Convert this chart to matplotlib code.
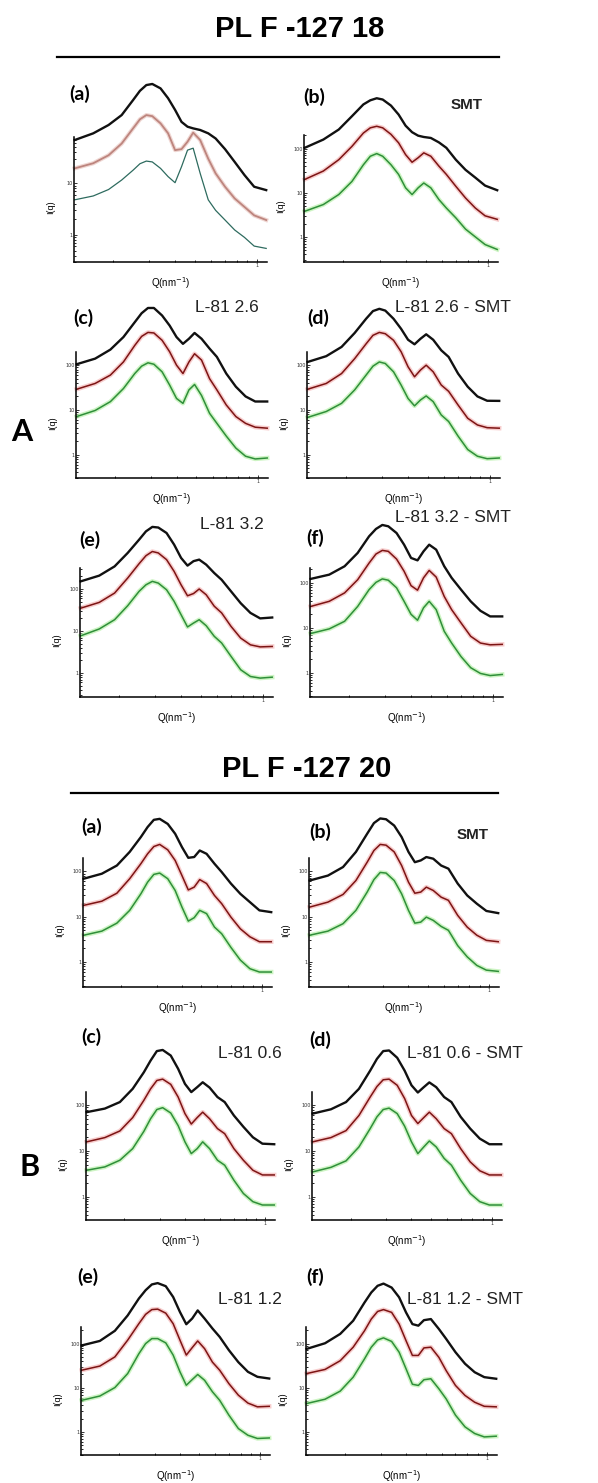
import matplotlib.pyplot as plt
from matplotlib.lines import Line2D
from matplotlib.ticker import FixedLocator, FuncFormatter, LogLocator, NullFormatter

W, H = 598, 1483

# scattering vector grid shared by every curve (nm^-1)
q = [0.13, 0.16, 0.19, 0.22, 0.25, 0.27, 0.29, 0.31, 0.34, 0.37, 0.40,
     0.43, 0.46, 0.49, 0.53, 0.58, 0.63, 0.70, 0.78, 0.87, 0.97, 1.11]

# ---- PL F-127 18 ----
f18_a_black = [69, 93, 135, 210, 410, 620, 800, 840, 690, 445, 265, 155, 125, 116, 108, 93, 74, 46, 26, 14.5, 8.6, 7.4]
f18_a_red = [19.5, 24.5, 35, 59, 116, 174, 210, 200, 145, 93, 44, 46, 64, 96, 69, 30, 15.6, 8.6, 5.1, 3.5, 2.4, 1.95]
f18_a_green = [4.8, 5.7, 7.6, 11.6, 18, 24, 27, 26, 19.5, 13.5, 10.3, 21, 44, 48, 15.6, 4.8, 3.0, 1.95, 1.25, 0.9, 0.61, 0.55]

f18_b_black = [104, 160, 270, 540, 1000, 1240, 1380, 1290, 940, 590, 330, 235, 196, 183, 174, 138, 104, 56, 33, 22, 14.5, 11.4]
f18_b_red = [20, 31, 56, 112, 225, 295, 320, 295, 210, 135, 73, 49, 62, 80, 67, 40, 26, 14, 7.6, 4.5, 3.0, 2.5]
f18_b_green = [3.8, 5.4, 9.1, 18, 43, 67, 77, 67, 43, 26, 12.9, 9.1, 12.9, 16.6, 12.9, 7.0, 4.5, 2.7, 1.5, 1.0, 0.67, 0.52]

f18_c_black = [105, 140, 223, 425, 915, 1450, 1900, 1900, 1290, 770, 425, 300, 390, 525, 390, 235, 153, 65, 33, 20, 15.4, 15.4]
f18_c_red = [29, 39, 60, 118, 277, 440, 540, 525, 360, 200, 100, 65, 118, 180, 130, 50, 28, 12.9, 7.1, 5.0, 4.1, 3.9]
f18_c_green = [7.1, 9.7, 15.3, 30, 65, 95, 113, 105, 71, 36, 18, 14, 28, 37, 21, 8.4, 5.0, 2.6, 1.4, 0.92, 0.80, 0.84]

f18_d_black = [118, 159, 256, 525, 1090, 1620, 1820, 1660, 1090, 650, 370, 293, 390, 490, 370, 215, 153, 65, 33, 20, 16, 15.9]
f18_d_red = [29, 39, 65, 140, 300, 465, 540, 505, 360, 200, 92, 55, 78, 100, 71, 36, 26, 12.9, 6.5, 4.6, 4.0, 3.9]
f18_d_green = [6.8, 9.2, 14, 28, 60, 95, 118, 109, 71, 36, 18, 12.3, 16.7, 20.5, 15.3, 7.7, 5.5, 2.6, 1.3, 0.92, 0.81, 0.84]

f18_e_black = [152, 208, 345, 720, 1490, 2350, 3000, 2900, 2150, 1140, 550, 360, 460, 500, 380, 240, 166, 88, 46, 27, 20, 21]
f18_e_red = [35, 48, 80, 182, 400, 620, 780, 720, 500, 263, 126, 69, 78, 100, 73, 39, 27, 12.9, 6.8, 4.7, 4.2, 4.3]
f18_e_green = [7.7, 11.2, 18.6, 40, 88, 126, 152, 138, 96, 51, 24.5, 12.5, 15.5, 18.6, 13.4, 7.5, 5.2, 2.5, 1.2, 0.83, 0.76, 0.80]

f18_f_black = [123, 153, 235, 465, 1090, 1590, 1950, 1820, 1290, 710, 360, 318, 505, 710, 550, 235, 130, 71, 39, 24, 18, 18]
f18_f_red = [30, 39, 60, 118, 277, 440, 530, 505, 340, 182, 87, 69, 130, 190, 135, 50, 25.5, 12.9, 6.5, 4.6, 4.2, 4.3]
f18_f_green = [7.5, 9.5, 14, 30, 71, 103, 123, 115, 78, 39, 20, 14.8, 28, 39, 25.5, 8.4, 4.6, 2.3, 1.3, 0.97, 0.87, 0.92]

# ---- PL F-127 20 ----
f20_a_black = [69, 89, 135, 270, 575, 955, 1380, 1450, 1120, 680, 345, 200, 208, 290, 245, 148, 97, 54, 32, 21, 13.8, 12.6]
f20_a_red = [17.8, 22, 33, 69, 148, 245, 355, 395, 300, 175, 81, 39, 45, 66, 54, 29.5, 19.4, 9.8, 5.4, 3.6, 2.8, 2.8]
f20_a_green = [3.9, 4.8, 7.2, 13.8, 32, 58, 86, 92, 69, 38, 16.3, 8.0, 9.5, 13.8, 11.7, 5.9, 4.2, 2.1, 1.1, 0.71, 0.60, 0.60]

f20_b_black = [63, 81, 125, 270, 680, 1170, 1480, 1420, 1030, 575, 270, 160, 175, 208, 191, 135, 115, 54, 29.5, 19.4, 13.4, 12.0]
f20_b_red = [16.3, 21, 31, 63, 160, 290, 395, 380, 270, 135, 58, 33, 35, 45, 38, 27, 23, 10.7, 5.9, 3.9, 3.0, 2.8]
f20_b_green = [3.9, 4.8, 7.0, 13.8, 35, 66, 95, 92, 63, 32, 13.8, 7.2, 7.6, 9.8, 8.3, 6.1, 5.0, 2.3, 1.3, 0.84, 0.66, 0.62]

f20_c_black = [71, 85, 118, 230, 530, 955, 1540, 1630, 1230, 630, 295, 195, 250, 320, 245, 152, 118, 60, 34, 20, 14.5, 14.1]
f20_c_red = [15.9, 19.7, 27.5, 54, 129, 230, 350, 375, 288, 152, 66, 39, 54, 71, 51, 31, 24, 11.3, 6.3, 3.8, 3.0, 3.0]
f20_c_green = [3.8, 4.5, 6.3, 11.3, 27, 51, 81, 89, 68, 36, 15.9, 8.8, 11.3, 15.9, 11.3, 6.3, 4.9, 2.3, 1.18, 0.78, 0.66, 0.66]

f20_d_black = [66, 82, 118, 230, 575, 1040, 1540, 1590, 1100, 575, 275, 191, 250, 318, 250, 152, 118, 56, 31, 18.7, 14.1, 14.1]
f20_d_red = [15.9, 19.7, 28, 60, 152, 258, 363, 375, 275, 141, 60, 40, 54, 71, 51, 31, 24, 11.3, 5.8, 3.7, 3.0, 3.0]
f20_d_green = [3.5, 4.4, 6.1, 12.3, 31, 56, 81, 87, 66, 35, 15.9, 8.8, 12.3, 16.6, 12.3, 6.9, 4.9, 2.3, 1.18, 0.78, 0.66, 0.66]

f20_e_black = [91, 115, 195, 435, 1050, 1620, 2190, 2350, 2000, 1140, 520, 275, 370, 565, 370, 220, 142, 71, 38, 23, 17.7, 16.2]
f20_e_red = [25, 31, 50, 120, 283, 460, 590, 605, 490, 283, 120, 55, 81, 115, 77, 38, 25, 12.4, 6.8, 4.5, 3.7, 3.8]
f20_e_green = [5.2, 6.5, 10.1, 21, 59, 100, 130, 130, 104, 55, 23, 11.4, 15.3, 20, 14.8, 8.1, 5.2, 2.4, 1.19, 0.84, 0.71, 0.73]

f20_f_black = [76, 102, 166, 330, 850, 1440, 2040, 2290, 1860, 1120, 510, 277, 255, 340, 360, 215, 128, 64, 35, 22.5, 17.4, 16]
f20_f_red = [21, 26, 41, 83, 195, 360, 535, 590, 510, 277, 117, 54, 54, 80, 83, 49, 24.5, 11.3, 6.7, 4.7, 3.8, 3.7]
f20_f_green = [4.4, 5.5, 8.4, 17.4, 45, 83, 121, 135, 112, 64, 27, 12, 11.3, 15.2, 16, 9.5, 5.6, 2.4, 1.3, 0.92, 0.77, 0.80]

SANS = ['Liberation Sans', 'DejaVu Sans']
LABEL = ['Lato', 'DejaVu Sans']

fig = plt.figure(figsize=(W / 100, H / 100), dpi=100)


def box(l, t, r, b):
    return [l / W, 1 - b / H, (r - l) / W, (b - t) / H]


def ftext(x, y, s, **kw):
    fig.text(x / W, 1 - y / H, s, ha='center', va='center', **kw)


def hline(x0, x1, y):
    fig.add_artist(Line2D([x0 / W, x1 / W], [1 - y / H, 1 - y / H],
                          color='black', lw=1.6))


def draw_panel(curves, frame, ylim, faded=False):
    l, t, r, b = frame
    ax = fig.add_axes(box(l, t, r, b))
    ax.set_xscale('log')
    ax.set_yscale('log')
    ax.set_xlim(0.129, 1.12)
    ax.set_ylim(*ylim)
    ax.patch.set_alpha(0)
    for s in ('top', 'right'):
        ax.spines[s].set_visible(False)
    for s in ('left', 'bottom'):
        ax.spines[s].set_linewidth(1.1)

    ax.xaxis.set_major_locator(FixedLocator([1]))
    ax.xaxis.set_minor_locator(FixedLocator([0.2, 0.3, 0.4, 0.5, 0.6, 0.7, 0.8, 0.9]))
    ax.yaxis.set_major_locator(FixedLocator([1, 10, 100]))
    ax.yaxis.set_minor_locator(LogLocator(subs=range(2, 10)))
    fmt = FuncFormatter(lambda v, p: f'{v:g}')
    ax.xaxis.set_major_formatter(fmt)
    ax.yaxis.set_major_formatter(fmt)
    ax.xaxis.set_minor_formatter(NullFormatter())
    ax.yaxis.set_minor_formatter(NullFormatter())
    ax.tick_params(which='major', direction='in', length=2.5, width=0.7,
                   labelsize=3.5, pad=1, colors='#333333')
    ax.tick_params(which='minor', direction='in', length=1.5, width=0.6)

    black, red, green = curves
    if faded:
        ax.plot(q, red, color='#efd6d2', lw=3.0, clip_on=False)
        ax.plot(q, red, color='#bd857e', lw=1.3, clip_on=False)
        ax.plot(q, green, color='#2e6b5f', lw=0.9, clip_on=False)
    else:
        ax.plot(q, red, color='#f4b9b9', lw=3.2, alpha=0.7, clip_on=False)
        ax.plot(q, red, color='#7d1414', lw=1.1, clip_on=False)
        ax.plot(q, green, color='#b8f0aa', lw=3.2, alpha=0.7, clip_on=False)
        ax.plot(q, green, color='#2f8f3a', lw=1.1, clip_on=False)
    ax.plot(q, black, color='#111111', lw=1.7, clip_on=False,
            solid_joinstyle='round')
    return ax


panels = [
    ((f18_a_black, f18_a_red, f18_a_green), (74, 137, 267, 262), (0.30, 79), True),
    ((f18_b_black, f18_b_red, f18_b_green), (304, 135, 498, 262), (0.27, 203), False),
    ((f18_c_black, f18_c_red, f18_c_green), (76, 352, 268, 478), (0.30, 197), False),
    ((f18_d_black, f18_d_red, f18_d_green), (307, 352, 500, 478), (0.30, 197), False),
    ((f18_e_black, f18_e_red, f18_e_green), (80, 568, 273, 697), (0.27, 316), False),
    ((f18_f_black, f18_f_red, f18_f_green), (310, 568, 503, 697), (0.29, 215), False),
    ((f20_a_black, f20_a_red, f20_a_green), (83, 858, 272, 987), (0.28, 198), False),
    ((f20_b_black, f20_b_red, f20_b_green), (309, 858, 499, 987), (0.28, 198), False),
    ((f20_c_black, f20_c_red, f20_c_green), (86, 1092, 275, 1220), (0.31, 196), False),
    ((f20_d_black, f20_d_red, f20_d_green), (312, 1092, 502, 1220), (0.31, 196), False),
    ((f20_e_black, f20_e_red, f20_e_green), (81, 1327, 270, 1455), (0.30, 238), False),
    ((f20_f_black, f20_f_red, f20_f_green), (306, 1327, 497, 1455), (0.30, 238), False),
]

for curves, frame, ylim, faded in panels:
    draw_panel(curves, frame, ylim, faded)
    l, t, r, b = frame
    ftext(l - 23, (t + b) / 2 + 8, 'I(q)', rotation=90, fontsize=6.5, family=SANS)
    ftext((l + r) / 2, b + 21, 'Q(nm$^{-1}$)', fontsize=7, family=SANS)

# section headers
ftext(300, 29, 'PL F -127 18', fontsize=21, weight='bold', family=SANS)
hline(57, 499, 57)
ftext(307, 769, 'PL F -127 20', fontsize=21, weight='bold', family=SANS)
hline(71, 498, 793)
ftext(22, 432, 'A', fontsize=22, weight='bold', family=LABEL)
ftext(30, 1167, 'B', fontsize=22, weight='bold', family=LABEL)

# panel letters
letters = [
    ('(a)', 80, 94), ('(b)', 314, 97), ('(c)', 83, 318), ('(d)', 318, 318),
    ('(e)', 90, 540), ('(f)', 315, 538),
    ('(a)', 92, 827), ('(b)', 320, 832), ('(c)', 91, 1037), ('(d)', 320, 1040),
    ('(e)', 88, 1277), ('(f)', 315, 1277),
]
for s, x, y in letters:
    ftext(x, y, s, fontsize=14, weight='bold', family=LABEL)

# sample notes
notes = [
    ('L-81 2.6', 227, 308), ('L-81 2.6 - SMT', 453, 308),
    ('L-81 3.2', 232, 525), ('L-81 3.2 - SMT', 453, 518),
    ('L-81 0.6', 250, 1053), ('L-81 0.6 - SMT', 465, 1053),
    ('L-81 1.2', 250, 1300), ('L-81 1.2 - SMT', 465, 1300),
]
for s, x, y in notes:
    ftext(x, y, s, fontsize=12.5, family=SANS, color='#222222')
ftext(467, 105, 'SMT', fontsize=11, weight='bold', family=SANS, color='#222222')
ftext(473, 835, 'SMT', fontsize=11, weight='bold', family=SANS, color='#222222')

fig.savefig('out.png', dpi=100)
